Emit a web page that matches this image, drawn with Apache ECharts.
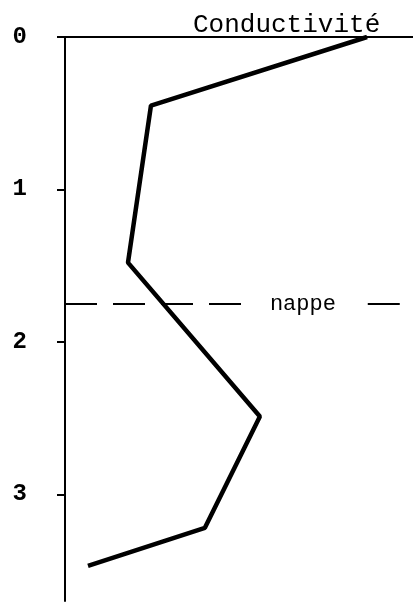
<!DOCTYPE html>
<html>
<head>
<meta charset="utf-8">
<script src="https://cdn.jsdelivr.net/npm/echarts@6/dist/echarts.min.js"></script>
<style>
  html, body { margin: 0; padding: 0; background: #fff; }
  #chart { width: 413px; height: 602px; }
</style>
</head>
<body>
<div id="chart"></div>
<script>
// profil de conductivité en fonction de la profondeur
var conductivite = [86.8, 24.7, 18.1, 56.0, 40.2, 6.6];
var profondeur = [0, 0.45, 1.48, 2.49, 3.22, 3.47];
var depthTicks = ['0', '1', '2', '3'];
var nappeDepth = 1.75;
var nappeLeft = [0, 51.7];
var nappeRight = [87, 98.6];

var points = conductivite.map(function (c, i) { return [c, profondeur[i]]; });

var mono = 'Liberation Mono';

echarts.init(document.getElementById('chart')).setOption({
    animation: false,
    title: {
        text: 'Conductivité',
        left: 188,
        top: 7,
        textStyle: { fontFamily: mono, fontSize: 26, fontWeight: 'normal', color: '#000' }
    },
    grid: { left: 65, right: 0, top: 37, bottom: 1 },
    xAxis: {
        type: 'value',
        position: 'top',
        min: 0,
        max: 100,
        axisLine: { lineStyle: { color: '#000', width: 2 } },
        axisTick: { show: false },
        axisLabel: { show: false },
        splitLine: { show: false }
    },
    yAxis: {
        type: 'value',
        inverse: true,
        min: 0,
        max: 3.7,
        interval: 1,
        axisLine: { show: true, lineStyle: { color: '#000', width: 2 } },
        axisTick: { show: true, length: 8, lineStyle: { color: '#000', width: 2 } },
        axisLabel: {
            margin: 38,
            showMaxLabel: false,
            fontFamily: mono,
            fontSize: 24,
            fontWeight: 'bold',
            color: '#000',
            padding: [0, 0, 8, 0],
            formatter: function (v) {
                return depthTicks[Math.round(v)] || '';
            }
        },
        splitLine: { show: false }
    },
    series: [{
        type: 'line',
        data: points,
        showSymbol: false,
        silent: true,
        lineStyle: { color: '#000', width: 4.5 },
        markLine: {
            silent: true,
            symbol: 'none',
            lineStyle: { color: '#000', width: 2, type: [32, 16] },
            data: [
                [{ coord: [nappeLeft[0], nappeDepth] },
                 { coord: [nappeLeft[1], nappeDepth],
                   label: {
                       show: true, position: 'end', distance: 25, formatter: 'nappe',
                       fontFamily: mono, fontSize: 22, color: '#000', padding: [0, 0, 8, 0]
                   } }],
                [{ coord: [nappeRight[0], nappeDepth] },
                 { coord: [nappeRight[1], nappeDepth], label: { show: false } }]
            ]
        }
    }]
});
</script>
</body>
</html>
